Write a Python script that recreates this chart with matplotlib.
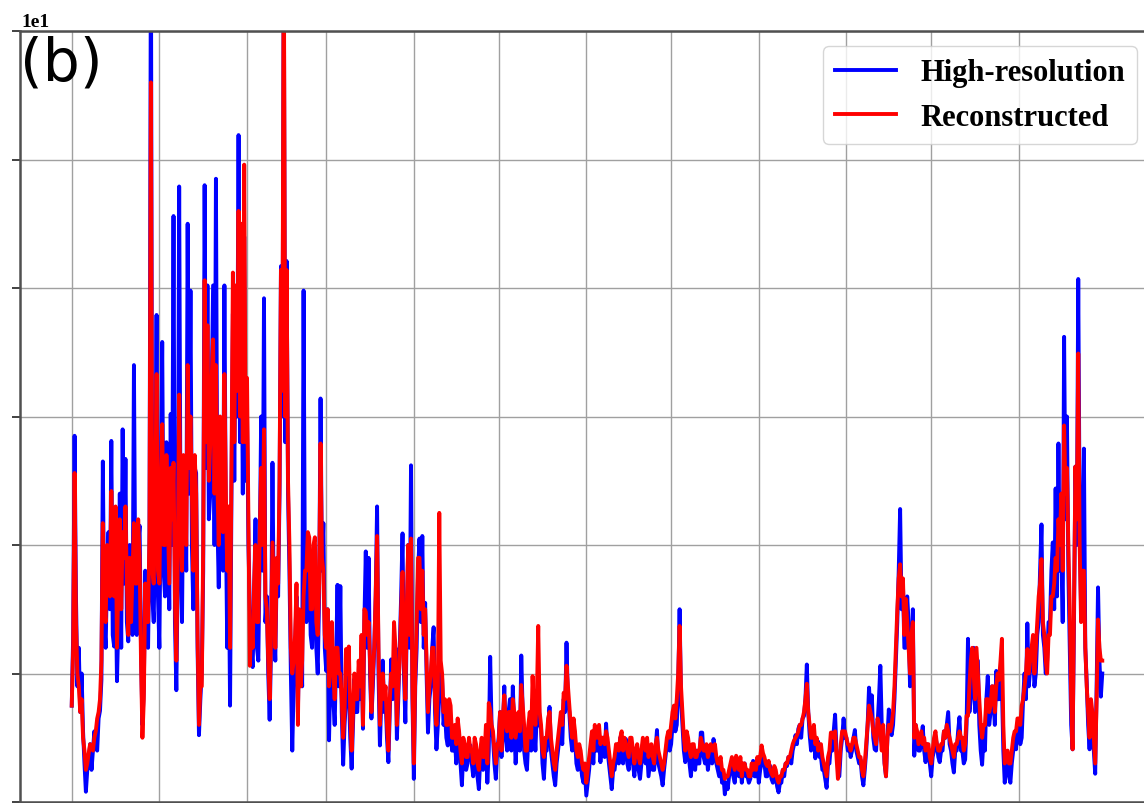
import matplotlib
matplotlib.use("Agg")
import matplotlib.pyplot as plt
import pandas as pd

# Twice-daily series, 1 Dec 2018 - 30 Nov 2019 (axis values in units of 1e1)
times = pd.date_range("2018-12-01", periods=730, freq="12h")

high_res = [
    7.5, 13, 28.5, 16, 9, 12, 7, 10, 5.5, 3,
    0.8, 2.5, 3.3, 4.5, 2.5, 4, 5.5, 4.5, 4, 6.5,
    7.1, 9.5, 26.5, 14, 12, 18, 21, 15, 28.1, 13,
    12.1, 18, 9.4, 14, 24, 12, 29, 17, 26.7, 14,
    12.5, 20, 17.9, 13, 34, 16, 13, 20, 21.5, 12,
    6, 9, 18, 13, 12, 20, 68, 16, 14, 22,
    37.9, 16, 12, 24, 35.8, 18, 16, 28, 24, 15,
    30.2, 20, 45.6, 14, 8.7, 18, 47.9, 20, 14, 26,
    25, 18, 45, 24, 39.8, 20, 15, 26, 25.6, 12,
    5.2, 8, 10.2, 18, 48, 26, 40.2, 22, 24, 32,
    40.2, 20, 48.5, 22, 16.7, 28, 24, 18, 40.2, 22,
    12, 20, 7.5, 24, 38, 25, 39, 30, 51.9, 28,
    40, 24, 44, 25, 30, 20, 15, 12, 10.5, 16,
    22, 12, 11, 20, 30, 18, 39.2, 14, 16, 10,
    6.4, 12, 26.4, 14, 11, 18, 16, 24, 41.7, 30,
    66, 28, 42.1, 24, 17.9, 10, 4, 9, 12, 16,
    7, 14, 14, 9, 39.8, 16, 14, 20, 19.8, 13,
    12, 18, 17, 12, 10, 16, 31.4, 18, 21.7, 12,
    10.2, 15, 4.8, 10, 12, 8, 6, 11, 16.9, 9,
    16.8, 7, 2.9, 6, 8, 10, 9, 5, 2.6, 6,
    9.6, 7, 7, 10, 8, 12, 5.7, 14, 19.5, 12,
    19, 10, 6.5, 9, 12, 16, 23, 10, 4.4, 8,
    11, 7, 8, 5, 3.1, 7, 11.1, 8, 9, 12,
    4.9, 8, 12, 16, 20.9, 10, 6.2, 14, 20, 12,
    26.2, 8, 1.8, 9, 12, 18, 20.5, 14, 20.7, 12,
    15.5, 10, 5.4, 8, 9, 12, 13.6, 7, 4.1, 6,
    8.3, 10, 9.6, 6, 7, 5, 4.4, 7, 6, 4,
    4, 5, 3, 6, 5, 3, 1.3, 4, 4, 2.5,
    3, 4.5, 4.4, 3, 2, 4, 3.5, 2, 1, 3.5,
    4, 2.5, 3, 5, 1.5, 4, 11.3, 6, 5, 3,
    1.8, 4, 5, 7, 3.5, 6, 9, 5, 4, 7,
    8, 4, 9, 6, 3, 5, 6, 4, 11.4, 7,
    4, 3, 2.5, 5, 6, 4, 8, 6, 4, 7,
    9.6, 6, 5.7, 3, 1.8, 4, 4, 6, 7.4, 4,
    3, 2, 1.3, 3, 4, 5, 6, 4.5, 8, 7,
    12.4, 8, 7, 5, 4, 6, 5, 3, 2.5, 4,
    3, 2, 1.5, 2.5, 0.5, 1.5, 2.5, 4, 4.5, 3,
    5.7, 4, 4, 5, 3.1, 4.5, 5, 3.5, 6.1, 4,
    3, 2, 1, 2.5, 2.5, 3.5, 4, 3, 5, 4,
    3, 4.5, 4.9, 3, 2.5, 4, 4, 3, 2, 3.5,
    3.5, 2.5, 1.8, 3, 4.5, 3.5, 3, 4, 2, 3,
    4, 2.5, 2.5, 4, 5.6, 3, 2.5, 2, 1.3, 2.5,
    3.5, 4.5, 5, 4, 4.5, 6, 7, 5.5, 6, 9,
    15, 8, 6, 4, 3.1, 5, 4.5, 3, 2, 3.5,
    3.5, 2.5, 4, 3, 3, 5.4, 5.4, 3.5, 3, 4,
    2.5, 3.5, 4, 3, 4.9, 3.5, 3, 2.5, 2, 3,
    1.5, 2, 0.6, 1.5, 1, 2, 2.5, 3, 2, 1.5,
    3, 2.5, 2, 3, 1.5, 2.5, 3, 2, 2, 1.5,
    1.8, 2.5, 3.2, 2, 2, 3, 1.5, 2.5, 3, 3.5,
    3, 2, 2, 3, 2.8, 1.8, 1.5, 2.5, 2, 1.2,
    0.75, 1.5, 1.5, 2.5, 2, 3, 2.8, 3.5, 3.5, 3,
    4, 4.5, 5.2, 4.5, 5.7, 6, 5, 6.5, 6.7, 8,
    10.7, 7, 5.2, 4, 4.5, 5.5, 3.4, 4.5, 4.7, 3.5,
    3.5, 2.5, 2.5, 1.8, 1.1, 3, 3, 4.5, 4, 5.5,
    6.8, 4, 3, 2, 4, 5, 6.5, 5, 5, 4,
    4.4, 3.5, 4, 5, 5.6, 4, 3.5, 3, 3.3, 2,
    1.3, 2.5, 4, 6, 8.9, 7, 8.3, 5, 4.1, 4,
    6, 8, 10.6, 6, 5, 3, 2, 5, 7.2, 5.5,
    5.2, 6, 8, 11, 14, 18, 22.8, 15, 17, 12,
    12, 16, 14, 9, 10, 15, 3.6, 6, 5, 4,
    4, 5, 5.9, 4, 3.1, 4.5, 4, 3, 2, 3.5,
    4, 5, 4.5, 3.5, 3.1, 4, 4, 5.5, 5, 6,
    7, 4.5, 4, 3, 2.3, 4, 4, 5.5, 6.6, 4,
    4, 3, 3.3, 6, 12.7, 7, 8, 11, 12, 7,
    9, 11, 6, 4, 2.9, 5, 4, 8, 9.8, 6,
    7, 9, 8, 6, 10.2, 8, 8, 10, 9, 4,
    1.5, 3, 3, 2, 1.5, 3, 4, 5, 4.1, 6,
    6, 4.5, 5, 8, 10, 8, 13.9, 9, 10.3, 12,
    12, 9, 10, 13, 14, 18, 21.6, 13, 12, 10,
    11, 14, 14, 18, 20.2, 15, 24.4, 16, 27.9, 18,
    20, 14, 36.2, 22, 30, 18, 12, 6, 4.1, 14,
    26.1, 20, 40.7, 22, 15, 20, 27.5, 12, 9.3, 6,
    4.1, 7, 6, 4, 2.2, 9, 16.7, 11, 8.2, 10,
]

reconstructed = [
    7.5, 12, 25.6, 14, 10, 9, 7, 8, 5, 4,
    2.5, 3, 3.8, 4.5, 4.2, 4, 5, 5.5, 6.5, 7,
    8, 11, 21.7, 15, 14, 20, 19, 16, 24.2, 18,
    16, 23, 12, 17, 22, 15, 21, 19, 23, 17,
    13, 19, 14, 18, 21.7, 17, 17, 22, 19, 11,
    5, 8, 17, 14, 14, 21, 56, 18, 17, 23,
    33.3, 18, 17, 25, 29.4, 20, 20, 27, 22, 17,
    26, 22, 26.4, 16, 11, 19, 31.7, 23, 18, 27,
    24, 20, 34, 26, 30, 24, 18, 27, 24, 13,
    6, 9, 9, 20, 40.6, 28, 37.1, 25, 28, 33,
    36, 24, 34, 25, 20, 30, 26, 21, 33.3, 24,
    18, 23, 12, 26, 41.2, 28, 40.2, 32, 46, 30,
    45, 28, 49.6, 28, 33, 22, 10.6, 14, 12, 17,
    20, 14, 14, 21, 26, 20, 29, 16, 15, 11,
    8, 13, 20.2, 16, 12, 19, 17, 25, 41.4, 32,
    68, 30, 41.4, 25, 20, 12, 10, 11, 13, 17,
    6, 15, 9, 11, 16, 18, 18, 21, 20.6, 15,
    15, 20, 20.6, 14, 13, 17, 27.9, 19, 18, 13,
    12, 15, 9, 11, 14, 10, 8, 12, 12, 10,
    10, 8, 5, 7, 11.9, 10, 12.1, 7, 4, 7,
    10, 8, 8, 11, 9, 13, 6, 15, 14.8, 13,
    14, 11, 7, 10, 12, 16, 20.7, 12, 6, 9,
    10, 8, 9, 6, 4, 8, 10, 9, 14, 12,
    6, 9, 11, 15, 17.9, 11, 8, 15, 20, 13,
    20.5, 9, 3, 10, 14, 19, 19, 15, 18, 13,
    15, 11, 7, 9, 10, 12, 12, 8, 6, 9,
    22.5, 11, 10, 7, 8, 6, 6, 8, 7.5, 5,
    5, 6, 4.5, 6.5, 5.5, 4, 3, 5, 4.5, 3.5,
    3.5, 5, 4, 4, 3, 5, 4.5, 3, 2.5, 4,
    5, 3.5, 3.5, 6, 3, 7.7, 7.2, 6, 5.5, 4,
    3, 4.5, 4.5, 7, 4, 6.5, 8.3, 6, 5.5, 7,
    7, 5, 8, 7, 5, 6, 7, 5.5, 9.1, 7.5,
    6, 4, 4, 6, 7, 5, 9.8, 7, 6, 8,
    13.7, 7, 6, 4, 3.5, 5, 5, 6.5, 7, 5,
    4, 3, 2.5, 4, 5, 6, 7, 6, 8.5, 8,
    10.6, 9, 7.5, 6, 5, 6.5, 5.5, 4, 3.5, 4.5,
    4, 3, 2.5, 3, 1.5, 2.5, 3.5, 4.5, 5.5, 4,
    6, 5, 5, 6, 4.5, 5, 5, 4.5, 5.5, 5,
    4, 3, 2, 3, 3.5, 4.5, 4.5, 4, 5, 5.5,
    4, 5, 4.5, 4, 3.5, 5, 5, 4, 3, 4,
    4.5, 3.5, 3, 4, 5, 4.5, 4, 5, 3.5, 4,
    4.5, 3.5, 3, 4.5, 5, 4, 3.5, 3, 2.5, 3,
    4, 5, 5.5, 5, 6, 7, 7.5, 6.5, 8, 10,
    13.7, 9, 7, 5, 4, 5.5, 5, 4, 3.5, 4.5,
    4.5, 3.5, 3.5, 4, 4, 5, 4.5, 4, 4, 4.5,
    3.5, 4, 4.5, 4, 4, 4.5, 3.5, 3, 3, 3.5,
    2.5, 2.5, 1.8, 2, 2, 2.5, 3, 3.5, 3, 2.5,
    3.6, 3, 2.5, 3.5, 2, 3, 3, 2.5, 2.5, 2,
    2, 3, 2.5, 3, 2.5, 3.5, 3, 3.5, 4.4, 3.8,
    3.5, 3, 2.8, 3.2, 2.5, 2.2, 2, 2.8, 2.5, 1.8,
    1.5, 2, 2, 2.5, 2.5, 3, 3, 3.5, 3.5, 4,
    4.5, 4.8, 5, 5.2, 5.5, 6, 6, 6.5, 7, 8,
    9.2, 7, 6, 5, 5, 6, 4.5, 5, 4, 4.5,
    4.5, 3.5, 3, 2.5, 2, 3.5, 4, 5.4, 5.4, 5,
    5.5, 3.5, 1.8, 3, 4.5, 5.5, 5.5, 5.5, 5, 4.5,
    4.4, 4, 4.5, 5, 5, 4.5, 4, 3.5, 3.5, 2.5,
    2, 3, 4.5, 6, 7.5, 7, 6.5, 5.5, 5, 4.5,
    6.5, 6, 5.4, 4, 6, 3, 2, 5, 6, 5.5,
    6, 7, 9, 12, 15, 17.4, 18.5, 16, 17.4, 13,
    15.8, 14, 12, 10, 13, 14, 5, 6, 5.5, 4.5,
    5, 5.5, 4.5, 5, 4, 4.5, 4.5, 3.5, 3, 4,
    5, 5.5, 4.5, 4, 4, 4.5, 4.5, 5.5, 5, 6,
    5.5, 5, 4.5, 4, 3.5, 4.5, 4.5, 5, 5.5, 5,
    5, 4, 4.5, 6.7, 6.7, 9, 11, 12, 10, 8,
    12, 10, 8, 6, 5, 6, 6, 8, 8, 7,
    7.5, 9, 9, 7, 9, 10, 9.5, 11, 12.7, 6,
    3, 3.5, 4, 3, 3, 4, 5, 5.5, 5.5, 6.5,
    6.5, 6, 7.5, 8, 9, 10, 11.9, 10, 11, 12,
    13, 10, 12, 14, 16, 17, 18.9, 14, 13, 11,
    10, 13, 13, 16, 16, 17, 19, 18, 22, 20,
    24, 18, 29.3, 24, 26, 20, 15, 8, 4.1, 15,
    26.1, 22, 34.9, 20, 14, 18, 18, 12, 9, 7,
    5, 8, 7, 5, 3, 8, 14.2, 12, 11, 11,
]

y_ticks = [0, 10, 20, 30, 40, 50, 60]
month_ticks = pd.date_range("2018-12-01", "2019-11-01", freq="MS")
series_labels = ["High-resolution", "Reconstructed"]

if len(high_res) != len(times) or len(reconstructed) != len(times):
    raise ValueError(f"{len(high_res)} / {len(reconstructed)} values for {len(times)} times")

plt.rcParams["font.family"] = ["Liberation Serif", "DejaVu Serif"]
plt.rcParams["font.weight"] = "bold"

fig = plt.figure(figsize=(11.44, 8.04), dpi=100)
ax = fig.add_axes([20 / 1144, 1 / 804, 1132.6 / 1144, 771 / 804])

ax.plot(times, high_res, color="#0000ff", lw=2.8, label=series_labels[0])
ax.plot(times, reconstructed, color="#ff0000", lw=2.8, label=series_labels[1])

ax.set_xlim(times[0] - pd.Timedelta(days=18.3), times[0] + pd.Timedelta(days=382.3))
ax.set_ylim(y_ticks[0], y_ticks[-1])
ax.set_yticks(y_ticks)
ax.set_xticks(month_ticks)
ax.tick_params(labelleft=False, labelbottom=False, length=5.5, width=1.3,
               color="#333333")

ax.grid(True, color="#a0a0a0", lw=1.0)
for side in ax.spines.values():
    side.set_linewidth(1.8)
    side.set_color("#505050")

ax.legend(loc="upper right", handlelength=2.0,
          prop={"family": "Liberation Serif", "weight": "bold", "size": 22})

# scale multiplier of the y axis
fig.text(21 / 1144, 1 - 27 / 804, "1e1", fontsize=14, fontweight="bold",
         va="baseline", ha="left")

fig.text(20 / 1144, 1 - 35 / 804, "(b)", fontsize=42, family="DejaVu Sans",
         fontweight="normal", va="top", ha="left")

fig.savefig("out.png", dpi=100)
